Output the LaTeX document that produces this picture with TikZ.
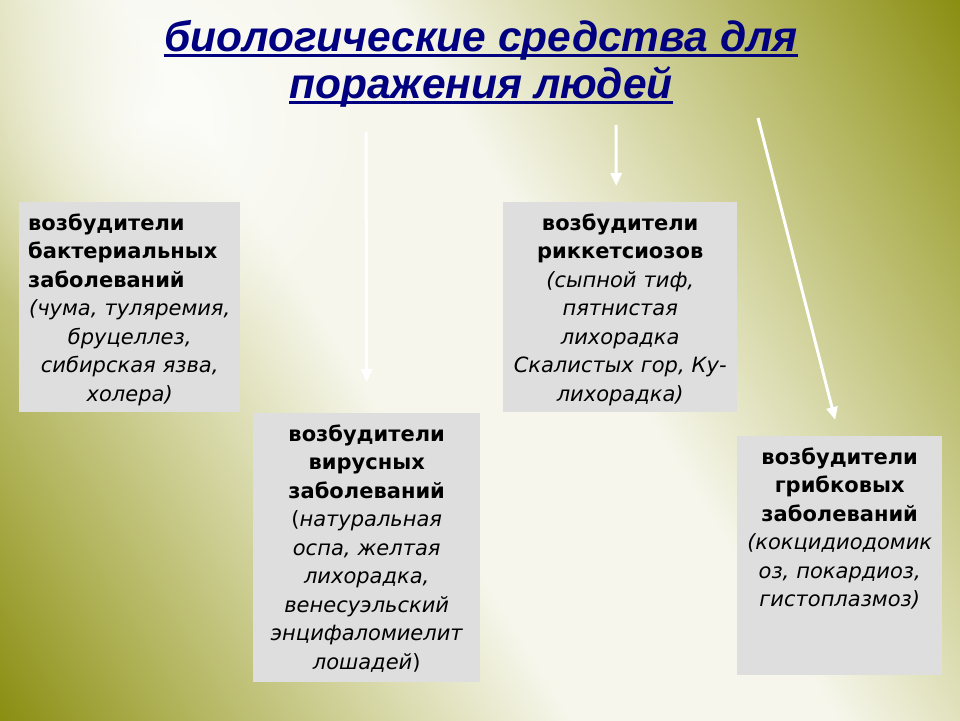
\documentclass[tikz,border=0pt]{standalone}
\usepackage{fontspec}
\setmainfont{DejaVu Sans}
\newfontfamily\titlefont{Liberation Sans}
\usetikzlibrary{arrows.meta,fadings}

\definecolor{olivedark}{RGB}{134,138,10}
\definecolor{olivemid}{RGB}{176,178,88}
\definecolor{olivelight}{RGB}{218,219,174}
\definecolor{paleband}{RGB}{246,246,236}
\definecolor{boxgray}{RGB}{222,222,222}
\definecolor{titleblue}{RGB}{0,0,128}

\pgfdeclareverticalshading{slidebg}{100bp}{color(0bp)=(olivedark); color(28bp)=(olivedark); color(34bp)=(olivemid); color(41bp)=(olivelight); color(46bp)=(paleband); color(54bp)=(paleband); color(59bp)=(olivelight); color(66bp)=(olivemid); color(72bp)=(olivedark); color(100bp)=(olivedark)}
\tikzfading[name=glowfade,inner color=transparent!20,outer color=transparent!100]

\begin{document}
\begin{tikzpicture}[x=1pt,y=-1pt]
		\tikzstyle{slidebox}=[fill=boxgray,draw=none,anchor=north west,inner sep=0pt]
		\tikzstyle{boxtext}=[anchor=north,align=center,inner sep=0pt,
		font=\fontsize{21}{28.5}\selectfont]
		\tikzstyle{titletext}=[anchor=base,inner sep=0pt,text=titleblue,
		font=\titlefont\bfseries\itshape\fontsize{42.5}{47}\selectfont]
		\tikzstyle{titleline}=[draw=titleblue,line width=3pt]
		\tikzstyle{whitearrow}=[draw=white,line width=3pt,-{Triangle[width=11pt,length=13pt]}]
		
		%% Background
		\begin{scope}
		\clip (0,0) rectangle (960,720);
		\shade[shading=slidebg,shading angle=-58] (-220,-340) rectangle (1180,1060);
		\fill[white,path fading=glowfade] (150,120) circle (230pt);
		\end{scope}
		\useasboundingbox (0,0) rectangle (960,720);
		
		%% Title
		\node [titletext] (title1) at (481,51) {биологические средства для};
		\node [titletext] (title2) at (481,98) {поражения людей};
		\draw [titleline] ([yshift=-4.5pt]title1.base west) -- ([yshift=-4.5pt]title1.base east);
		\draw [titleline] ([yshift=-4.5pt]title2.base west) -- ([yshift=-4.5pt]title2.base east);
		
		%% Boxes
		\node [slidebox,minimum width=221pt,minimum height=210pt] (bact) at (19,202) {};
		\node [slidebox,minimum width=227pt,minimum height=269pt] (vir) at (253,413) {};
		\node [slidebox,minimum width=234pt,minimum height=210pt] (rick) at (503,202) {};
		\node [slidebox,minimum width=205pt,minimum height=239pt] (fung) at (737,436) {};
		
		\node [boxtext,text width=203pt] (bacttxt) at ([yshift=-8pt]bact.north) {%
			\strut\makebox[203pt][l]{\bfseries возбудители}\\
			\makebox[203pt][l]{\bfseries бактериальных}\\
			\makebox[203pt][l]{\bfseries заболеваний}\\
			\itshape (чума, туляремия,\\ бруцеллез,\\ сибирская язва,\\ холера)};
		
		\node [boxtext,text width=215pt] (virtxt) at ([yshift=-8pt]vir.north) {%
			\strut\bfseries возбудители\\ вирусных\\ заболеваний\\
			\mdseries{\upshape(}\itshape натуральная\\ оспа, желтая\\ лихорадка,\\
			венесуэльский\\ энцифаломиелит\\ лошадей{\upshape)}};
		
		\node [boxtext,text width=226pt] (ricktxt) at ([yshift=-8pt]rick.north) {%
			\strut\bfseries возбудители\\ риккетсиозов\\
			\mdseries\itshape (сыпной тиф,\\ пятнистая\\ лихорадка\\
			Скалистых гор, Ку-\\ лихорадка)};
		
		\node [boxtext,text width=200pt] (fungtxt) at ([yshift=-8pt]fung.north) {%
			\strut\bfseries возбудители\\ грибковых\\ заболеваний\\
			\mdseries\itshape (кокцидиодомик\\ оз, покардиоз,\\ гистоплазмоз)};
		
		%% Arrows
		\coordinate (virstart) at (366,132);
		\coordinate (rickstart) at (616,125);
		\coordinate (fungstart) at (758,118);
		
		\draw [whitearrow] (virstart) -- ([yshift=31pt]vir.north);
		\draw [whitearrow] (rickstart) -- ([xshift=-4pt,yshift=16pt]rick.north);
		\draw [whitearrow] (fungstart) -- ([xshift=-4.5pt,yshift=16pt]fung.north);
		
\end{tikzpicture}
\end{document}
